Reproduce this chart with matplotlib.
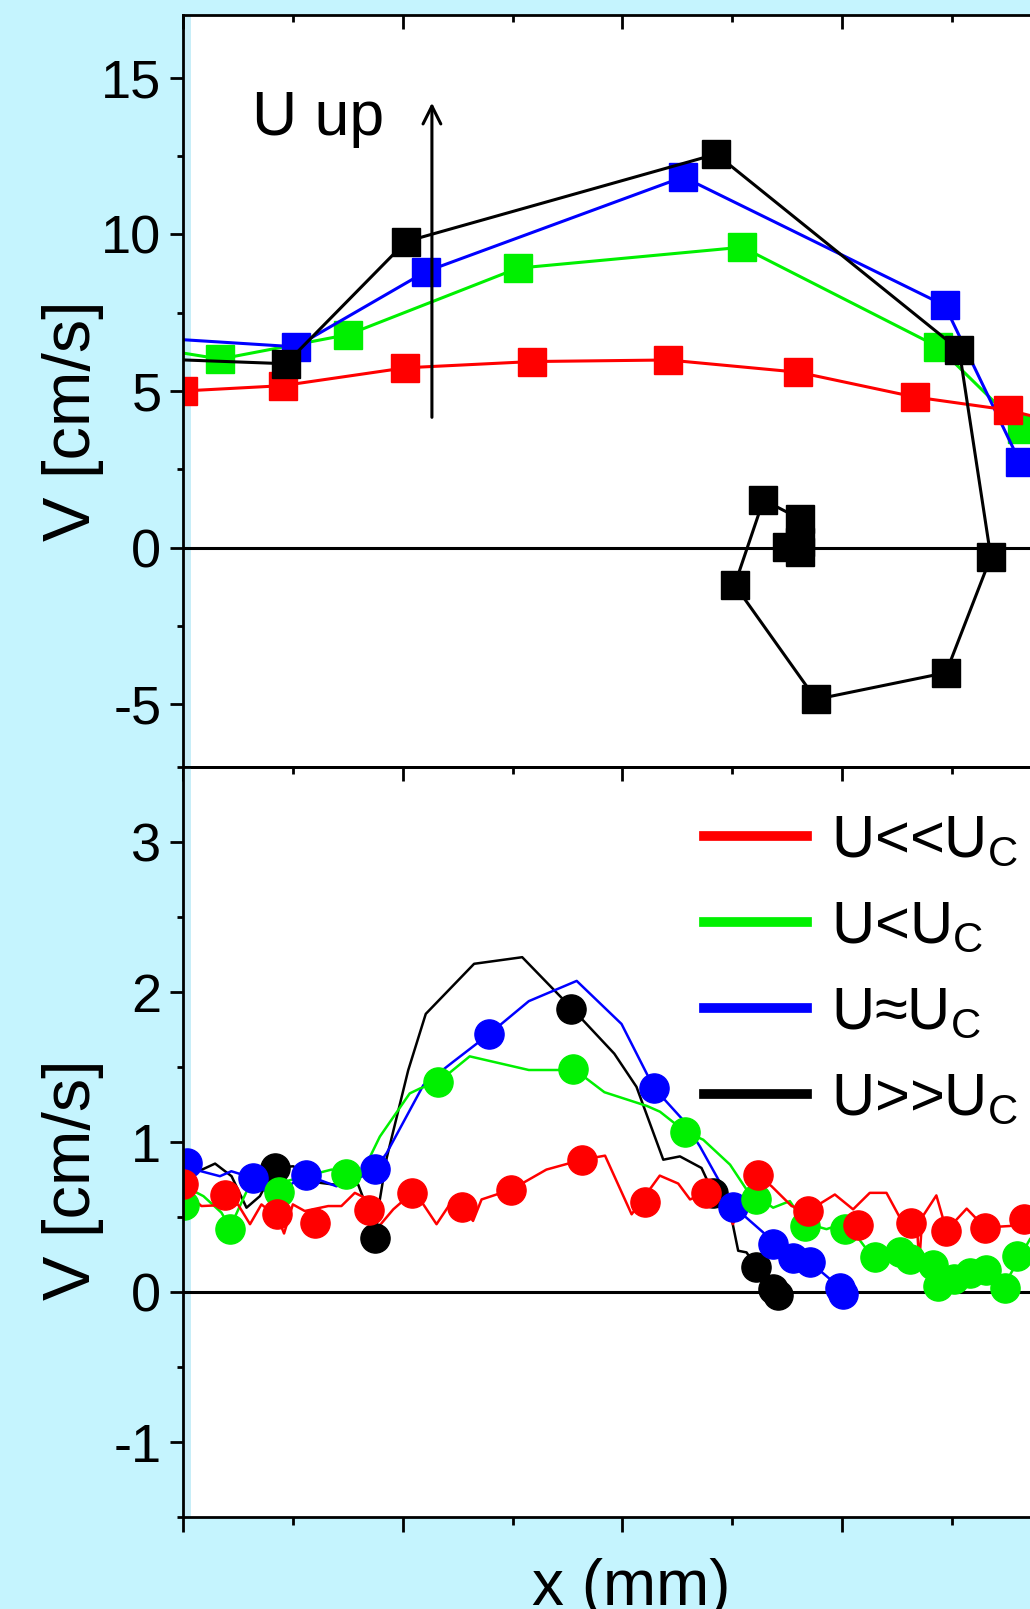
import numpy as np
import matplotlib
matplotlib.use("Agg")
import matplotlib.pyplot as plt
from matplotlib.ticker import MultipleLocator

plt.rcParams["font.family"] = ["Liberation Sans", "DejaVu Sans"]
plt.rcParams["mathtext.default"] = "regular"
plt.rcParams["axes.unicode_minus"] = False

# ---- top panel: V profiles (squares) ----
red_top_x = [0.0, 0.453, 1.012, 1.589, 2.208, 2.80, 3.33, 3.757, 4.15]
red_top_y = [5.0, 5.17, 5.74, 5.94, 5.99, 5.60, 4.81, 4.39, 3.70]
green_top_x = [-0.3, 0.169, 0.752, 1.524, 2.546, 3.437, 3.817]
green_top_y = [6.55, 6.02, 6.80, 8.92, 9.59, 6.41, 3.80]
blue_top_x = [-0.3, 0.513, 1.105, 2.277, 3.467, 3.808]
blue_top_y = [6.77, 6.41, 8.81, 11.83, 7.73, 2.75]
black_top_x = [-0.3, 0.468, 1.015, 2.427, 3.533, 3.677, 3.473, 2.881, 2.511,
               2.642, 2.809, 2.808, 2.747, 2.81]
black_top_y = [6.07, 5.87, 9.77, 12.56, 6.31, -0.30, -3.99, -4.84, -1.19,
               1.52, 0.92, 0.17, 0.02, -0.15]

# ---- bottom panel: lines ----
red_line_x = [0.0, 0.084, 0.25, 0.305, 0.357, 0.43, 0.46, 0.50, 0.554, 0.661, 0.721,
              0.782, 0.828, 0.881, 0.957, 1.043, 1.094, 1.154, 1.214, 1.271, 1.32,
              1.359, 1.495, 1.654, 1.817, 1.921, 2.042, 2.170, 2.254, 2.308, 2.380,
              2.450, 2.503, 2.549, 2.616, 2.679, 2.770, 2.846, 2.967, 3.050, 3.126,
              3.202, 3.263, 3.339, 3.351, 3.365, 3.429, 3.475, 3.567, 3.650, 3.763,
              3.855]
red_line_y = [0.68, 0.573, 0.584, 0.452, 0.584, 0.50, 0.39, 0.584, 0.540, 0.573, 0.573,
              0.661, 0.628, 0.419, 0.551, 0.661, 0.584, 0.452, 0.584, 0.57, 0.474,
              0.617, 0.683, 0.816, 0.882, 0.909, 0.518, 0.776, 0.723, 0.617, 0.661,
              0.617, 0.452, 0.617, 0.776, 0.705, 0.573, 0.54, 0.650, 0.551, 0.661,
              0.661, 0.496, 0.485, 0.187, 0.50, 0.644, 0.41, 0.556, 0.43, 0.440,
              0.463]
green_line_x = [0.0, 0.093, 0.175, 0.214, 0.29, 0.38, 0.676, 0.812, 0.896, 1.032, 1.079,
                1.162, 1.305, 1.574, 1.708, 1.776, 1.918, 2.112, 2.171, 2.285, 2.368,
                2.490, 2.565, 2.686, 2.762, 2.83, 2.929, 3.02, 3.111, 3.20, 3.339,
                3.45, 3.60, 3.74, 3.855]
green_line_y = [0.71, 0.639, 0.529, 0.43, 0.672, 0.705, 0.816, 0.783, 1.036, 1.324, 1.357,
                1.40, 1.571, 1.48, 1.48, 1.49, 1.332, 1.24, 1.202, 1.07, 1.015,
                0.849, 0.683, 0.562, 0.606, 0.46, 0.419, 0.463, 0.286, 0.25, 0.198,
                0.10, 0.12, 0.05, 0.352]
blue_line_x = [0.0, 0.054, 0.168, 0.22, 0.319, 0.403, 0.502, 0.559, 0.638, 0.698, 0.789,
               0.875, 0.927, 1.094, 1.23, 1.394, 1.574, 1.792, 1.996, 2.144, 2.276,
               2.353, 2.504, 2.641, 2.686, 2.777, 2.853, 2.99, 3.005]
blue_line_y = [0.84, 0.816, 0.772, 0.805, 0.76, 0.628, 0.728, 0.78, 0.738, 0.705, 0.75,
               0.82, 0.926, 1.379, 1.535, 1.72, 1.939, 2.074, 1.787, 1.36, 1.147,
               0.97, 0.573, 0.397, 0.32, 0.23, 0.2, 0.03, -0.01]
black_line_x = [0.0, 0.054, 0.146, 0.221, 0.289, 0.35, 0.418, 0.502, 0.623, 0.683, 0.797,
                0.820, 0.874, 0.896, 0.927, 1.025, 1.105, 1.325, 1.544, 1.768, 1.963,
                2.064, 2.186, 2.262, 2.36, 2.413, 2.481, 2.504, 2.527, 2.565, 2.61,
                2.686, 2.709]
black_line_y = [0.68, 0.794, 0.856, 0.772, 0.562, 0.639, 0.83, 0.838, 0.728, 0.717, 0.717,
                0.628, 0.36, 0.617, 0.893, 1.478, 1.854, 2.188, 2.232, 1.894, 1.589,
                1.368, 0.882, 0.904, 0.827, 0.66, 0.617, 0.44, 0.275, 0.264, 0.165,
                0.02, -0.02]

# ---- bottom panel: dots ----
red_dot_x = [0.0, 0.193, 0.426, 0.600, 0.848, 1.043, 1.271, 1.495, 1.817, 2.104, 2.380,
             2.616, 2.846, 3.073, 3.312, 3.475, 3.650, 3.827]
red_dot_y = [0.72, 0.65, 0.52, 0.46, 0.55, 0.66, 0.57, 0.68, 0.88, 0.60, 0.66,
             0.78, 0.54, 0.45, 0.46, 0.41, 0.43, 0.49]
green_dot_x = [0.005, 0.214, 0.439, 0.741, 1.162, 1.776, 2.285, 2.610, 2.830, 3.012,
               3.149, 3.263, 3.308, 3.414, 3.437, 3.51, 3.581, 3.657, 3.741, 3.794]
green_dot_y = [0.58, 0.42, 0.67, 0.79, 1.40, 1.49, 1.07, 0.62, 0.44, 0.42,
               0.235, 0.27, 0.22, 0.18, 0.04, 0.09, 0.13, 0.15, 0.03, 0.24]
blue_dot_x = [0.017, 0.319, 0.559, 0.875, 1.394, 2.144, 2.504, 2.686, 2.777, 2.853,
              2.99, 3.005]
blue_dot_y = [0.86, 0.76, 0.78, 0.82, 1.72, 1.36, 0.57, 0.32, 0.23, 0.20, 0.03, -0.01]
black_dot_x = [0.418, 0.874, 1.768, 2.413, 2.61, 2.686, 2.709]
black_dot_y = [0.83, 0.36, 1.89, 0.66, 0.165, 0.02, -0.02]

labels = ["U<<U$_C$", "U<U$_C$", "U\u2248U$_C$", "U>>U$_C$"]
RED, GREEN, BLUE, BLACK = "#ff0000", "#00f000", "#0000ff", "#000000"
bg = "#c5f4fe"

fig = plt.figure(figsize=(10.3, 16.09), dpi=100, facecolor=bg)
ax1 = fig.add_axes([183 / 1030, 1 - 767 / 1609, 878.8 / 1030, 752 / 1609])
ax2 = fig.add_axes([183 / 1030, 1 - 1517 / 1609, 878.8 / 1030, 750 / 1609])

# top panel
ax1.plot(green_top_x, green_top_y, "-s", color=GREEN, lw=2.2, ms=20)
ax1.plot(blue_top_x, blue_top_y, "-s", color=BLUE, lw=2.2, ms=20)
ax1.plot(red_top_x, red_top_y, "-s", color=RED, lw=2.2, ms=20)
ax1.plot(black_top_x, black_top_y, "-s", color=BLACK, lw=2.2, ms=20)
ax1.set_ylim(-7, 17)
ax1.yaxis.set_major_locator(MultipleLocator(5))
ax1.yaxis.set_minor_locator(MultipleLocator(2.5))
ax1.annotate("", xy=(1.133, 14.2), xytext=(1.133, 4.16),
             arrowprops=dict(arrowstyle="->", lw=2.2, color="black",
                             mutation_scale=32, shrinkA=0, shrinkB=0))
ax1.text(0.314, 13.18, "U up", fontsize=45, va="baseline", ha="left")
ax1.xaxis.set_ticks_position("top")
ax1.tick_params(axis="x", which="both", direction="in", top=True, bottom=False,
                labeltop=False, labelbottom=False)
ax1.tick_params(axis="x", which="major", length=10, width=2)
ax1.tick_params(axis="x", which="minor", length=5, width=2)

# bottom panel
ax2.plot(black_line_x, black_line_y, color=BLACK, lw=1.8, label=labels[3])
ax2.plot(blue_line_x, blue_line_y, color=BLUE, lw=1.8, label=labels[2])
ax2.plot(green_line_x, green_line_y, color=GREEN, lw=1.8, label=labels[1])
ax2.plot(red_line_x, red_line_y, color=RED, lw=1.8, label=labels[0])
ax2.plot(black_dot_x, black_dot_y, "o", color=BLACK, ms=21)
ax2.plot(blue_dot_x, blue_dot_y, "o", color=BLUE, ms=21)
ax2.plot(green_dot_x, green_dot_y, "o", color=GREEN, ms=21)
ax2.plot(red_dot_x, red_dot_y, "o", color=RED, ms=21)
ax2.set_ylim(-1.5, 3.5)
ax2.yaxis.set_major_locator(MultipleLocator(1))
ax2.yaxis.set_minor_locator(MultipleLocator(0.5))
ax2.tick_params(axis="x", which="both", direction="out", bottom=True, top=False,
                labelbottom=False)
ax2.tick_params(axis="x", which="major", length=11, width=2)
ax2.tick_params(axis="x", which="minor", length=6, width=2)
sec = ax2.secondary_xaxis("top")
sec.xaxis.set_major_locator(MultipleLocator(1))
sec.xaxis.set_minor_locator(MultipleLocator(0.5))
sec.tick_params(axis="x", which="both", direction="in", labeltop=False)
sec.tick_params(axis="x", which="major", length=10, width=2)
sec.tick_params(axis="x", which="minor", length=5, width=2)
sec.spines["top"].set_linewidth(2)

h, l = ax2.get_legend_handles_labels()
leg = ax2.legend(h[::-1], l[::-1], loc="upper left", bbox_to_anchor=(0.593, 0.938),
                 frameon=False, fontsize=43, handlelength=1.72, handletextpad=0.4,
                 labelspacing=0.52, borderpad=0, borderaxespad=0)
for line in leg.get_lines():
    line.set_linewidth(7)

ax2.set_xlabel("x (mm)", fontsize=46)
ax2.xaxis.set_label_coords(0.51, -0.055)

for ax, ly in ((ax1, 0.46), (ax2, 0.45)):
    ax.set_xlim(0, 4.0)
    ax.xaxis.set_major_locator(MultipleLocator(1))
    ax.xaxis.set_minor_locator(MultipleLocator(0.5))
    ax.axvspan(0, 0.035, color="#c8eef8", lw=0, zorder=0.5)
    ax.axhline(0, color="black", lw=2.2, zorder=1.5)
    ax.tick_params(axis="y", which="both", direction="out", labelsize=39, pad=6, width=2)
    ax.tick_params(axis="y", which="major", length=9.5)
    ax.tick_params(axis="y", which="minor", length=4.5)
    for s in ax.spines.values():
        s.set_linewidth(2)
    ax.set_ylabel("V [cm/s]", fontsize=48)
    ax.yaxis.set_label_coords(-0.09, ly)

fig.savefig("out.png", dpi=100, facecolor=bg)
